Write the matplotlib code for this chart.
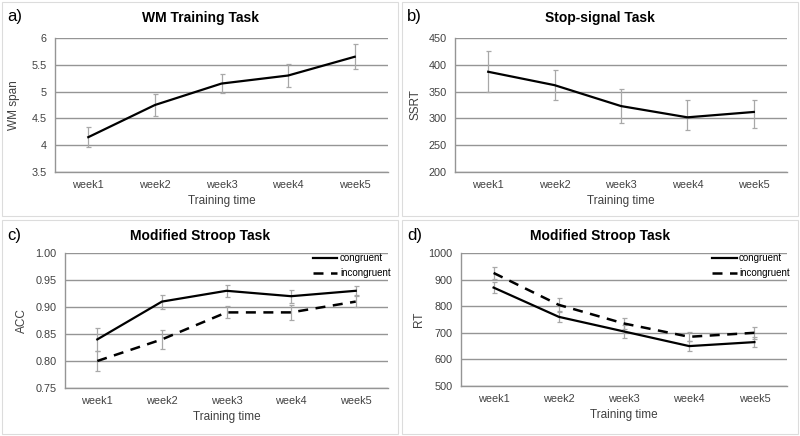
import matplotlib.pyplot as plt
import matplotlib.lines as mlines
import numpy as np

plt.rcParams['font.family'] = ['Liberation Sans', 'DejaVu Sans']

weeks = ['week1', 'week2', 'week3', 'week4', 'week5']

# a) WM training task
wm_span = [4.15, 4.75, 5.15, 5.30, 5.65]
wm_err = [0.19, 0.20, 0.17, 0.21, 0.23]

# b) Stop-signal task
ssrt = [387, 362, 323, 302, 312]
ssrt_err_lo = [38, 27, 32, 23, 30]
ssrt_err_hi = [38, 28, 32, 32, 23]

# c) Modified Stroop, accuracy
acc_con = [0.84, 0.91, 0.93, 0.92, 0.93]
acc_con_err = [0.022, 0.013, 0.011, 0.012, 0.008]
acc_inc = [0.80, 0.84, 0.89, 0.89, 0.91]
acc_inc_err = [0.018, 0.018, 0.011, 0.014, 0.010]

# d) Modified Stroop, RT
rt_con = [870, 760, 705, 650, 665]
rt_con_err = [20, 20, 25, 20, 20]
rt_inc = [925, 805, 735, 685, 700]
rt_inc_err = [21, 24, 21, 17, 22]

W, H = 800, 436
fig = plt.figure(figsize=(W / 100, H / 100), dpi=100)

GRID = '#959595'
ERR = '#a8a8a8'
TXT = '#404040'


def px_axes(x0, y0, x1, y1):
    return fig.add_axes([x0 / W, 1 - y1 / H, (x1 - x0) / W, (y1 - y0) / H])


def style(ax, ylim, yticks, fmt, ylabel, ypad):
    x = np.arange(len(weeks))
    ax.set_xlim(-0.5, len(weeks) - 0.5)
    ax.set_ylim(*ylim)
    ax.set_yticks(yticks)
    ax.set_yticklabels([fmt(v) for v in yticks])
    ax.set_xticks(x)
    ax.set_xticklabels(weeks)
    ax.tick_params(length=0, labelsize=7.8, colors=TXT)
    ax.tick_params(axis='x', pad=6)
    ax.tick_params(axis='y', pad=6)
    for s in ['top', 'right']:
        ax.spines[s].set_visible(False)
    for s in ['left', 'bottom']:
        ax.spines[s].set_color(GRID)
        ax.spines[s].set_linewidth(1)
    ax.yaxis.grid(True, color=GRID, linewidth=1)
    ax.set_axisbelow(True)
    ax.set_xlabel('Training time', fontsize=8.5, color=TXT, labelpad=3)
    ax.set_ylabel(ylabel, fontsize=8.5, color=TXT)
    ax.yaxis.set_label_coords(ypad, 0.5)


def err(ax, y, lo, hi):
    x = np.arange(len(weeks))
    ax.errorbar(x, y, yerr=[lo, hi], fmt='none', ecolor=ERR, elinewidth=0.9,
                capsize=1.8, capthick=0.9, zorder=2)


def legend(ax):
    h1 = mlines.Line2D([], [], color='black', linewidth=1.6)
    h2 = mlines.Line2D([], [], color='black', linewidth=1.8, dashes=(4, 3))
    ax.legend([h1, h2], ['congruent', 'incongruent'], loc='upper right',
              bbox_to_anchor=(1.035, 1.065), frameon=False, fontsize=7,
              handlelength=2.5, handletextpad=0.25, labelspacing=0.55)


x = np.arange(len(weeks))

# panel a
ax = px_axes(55, 38, 388, 172)
err(ax, wm_span, wm_err, wm_err)
ax.plot(x, wm_span, color='black', linewidth=1.6, zorder=3)
style(ax, (3.5, 6), [3.5, 4, 4.5, 5, 5.5, 6], lambda v: f'{v:g}', 'WM span', -0.105)

# panel b
ax = px_axes(455, 38, 787, 172)
err(ax, ssrt, ssrt_err_lo, ssrt_err_hi)
ax.plot(x, ssrt, color='black', linewidth=1.6, zorder=3)
style(ax, (200, 450), [200, 250, 300, 350, 400, 450], lambda v: f'{v:g}', 'SSRT', -0.1)

# panel c
ax = px_axes(65, 253, 388, 388)
err(ax, acc_con, acc_con_err, acc_con_err)
err(ax, acc_inc, acc_inc_err, acc_inc_err)
ax.plot(x, acc_con, color='black', linewidth=1.6, zorder=3)
ax.plot(x, acc_inc, color='black', linewidth=1.8, dashes=(4, 3), zorder=3)
style(ax, (0.75, 1.0), [0.75, 0.80, 0.85, 0.90, 0.95, 1.00], lambda v: f'{v:.2f}', 'ACC', -0.115)
legend(ax)

# panel d
ax = px_axes(461, 253, 787, 386)
err(ax, rt_con, rt_con_err, rt_con_err)
err(ax, rt_inc, rt_inc_err, rt_inc_err)
ax.plot(x, rt_con, color='black', linewidth=1.6, zorder=3)
ax.plot(x, rt_inc, color='black', linewidth=1.8, dashes=(4, 3), zorder=3)
style(ax, (500, 1000), [500, 600, 700, 800, 900, 1000], lambda v: f'{v:g}', 'RT', -0.11)
legend(ax)

# titles, panel letters and frames
titles = ['WM Training Task', 'Stop-signal Task', 'Modified Stroop Task', 'Modified Stroop Task']
letters = ['a)', 'b)', 'c)', 'd)']
origins = [(0, 0), (400, 0), (0, 218), (400, 218)]
for t, l, (ox, oy) in zip(titles, letters, origins):
    fig.text((ox + 200) / W, 1 - (oy + 18) / H, t, ha='center', va='center',
             fontsize=10, fontweight='bold')
    fig.text((ox + 7) / W, 1 - (oy + 17) / H, l, ha='left', va='center', fontsize=12)
    fig.add_artist(plt.Rectangle(((ox + 2) / W, 1 - (oy + 216) / H), 396 / W, 214 / H,
                                 transform=fig.transFigure, fill=False,
                                 edgecolor='#dcdcdc', linewidth=0.8))

plt.savefig('out.png', dpi=100)
